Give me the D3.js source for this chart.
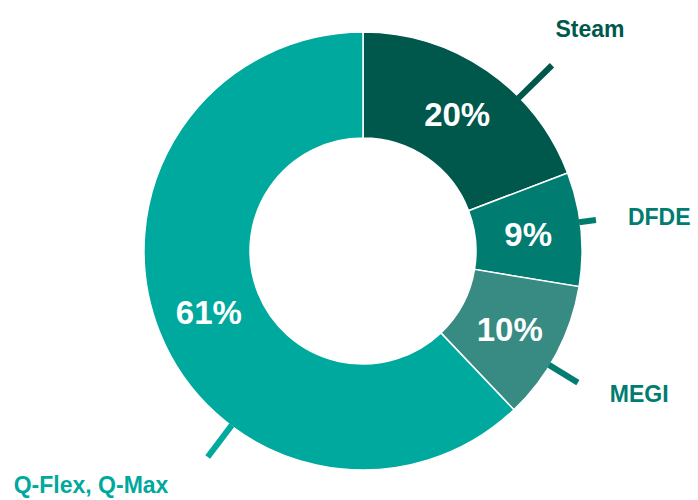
<!DOCTYPE html>
<html lang="en">
<head>
     <meta charset="UTF-8">
     <title>Donut</title>
     <script src="https://d3js.org/d3.v7.min.js"></script>
     <style>
          body { margin: 0; padding: 0; background: #fff; }
          text { font-family: "Liberation Sans", Arial, sans-serif; font-weight: bold; }
     </style>
</head>
<body>
     <script>
          // data
          let categories = ["Steam", "DFDE", "MEGI", "Q-Flex, Q-Max"]
          let shares = [19.2, 8.4, 10.3, 62.1]
          let shareLabels = ["20%", "9%", "10%", "61%"]
          let sliceColors = ["#00584c", "#007c70", "#378b83", "#00a99d"]
          let nameColors = ["#00584c", "#007c70", "#007c70", "#00a99d"]

          let width = 698
          let height = 500
          let cx = 363, cy = 251
          let rOuter = 219, rInner = 113

          // callout layout: leader angle (deg), leader end radius, label offset from leader end, anchor
          let callouts = [
               { a: 45.5, r: 265, dx: 38, dy: -37, anchor: "middle" },
               { a: 82.4, r: 235, dx: 32, dy: -3, anchor: "start" },
               { a: 121.5, r: 252, dx: 32, dy: 11, anchor: "start" },
               { a: 217, r: 258, dx: -194, dy: 28, anchor: "start" }
          ]

          let svg = d3.select("body")
               .append("svg")
               .attr("width", width)
               .attr("height", height)

          let g = svg.append("g").attr("transform", `translate(${cx},${cy})`)

          let pie = d3.pie().sort(null).value(d => d)
          let arcs = pie(shares)

          let arc = d3.arc().innerRadius(rInner).outerRadius(rOuter)

          g.selectAll("path.slice")
               .data(arcs)
               .join("path")
               .attr("class", "slice")
               .attr("d", arc)
               .attr("fill", (d, i) => sliceColors[i])
               .attr("stroke", "#fff")
               .attr("stroke-width", 1.5)

          g.selectAll("text.pct")
               .data(arcs)
               .join("text")
               .attr("class", "pct")
               .attr("x", d => arc.centroid(d)[0])
               .attr("y", d => arc.centroid(d)[1])
               .attr("dy", "0.36em")
               .attr("text-anchor", "middle")
               .attr("fill", "#fff")
               .style("font-size", "33px")
               .text((d, i) => shareLabels[i])

          let rad = Math.PI / 180

          g.selectAll("line.leader")
               .data(callouts)
               .join("line")
               .attr("class", "leader")
               .attr("x1", d => d3.pointRadial(d.a * rad, rOuter - 1)[0])
               .attr("y1", d => d3.pointRadial(d.a * rad, rOuter - 1)[1])
               .attr("x2", d => d3.pointRadial(d.a * rad, d.r)[0])
               .attr("y2", d => d3.pointRadial(d.a * rad, d.r)[1])
               .attr("stroke", (d, i) => nameColors[i])
               .attr("stroke-width", 6)

          g.selectAll("text.name")
               .data(callouts)
               .join("text")
               .attr("class", "name")
               .attr("x", d => d3.pointRadial(d.a * rad, d.r)[0] + d.dx)
               .attr("y", d => d3.pointRadial(d.a * rad, d.r)[1] + d.dy)
               .attr("dy", "0.36em")
               .attr("text-anchor", d => d.anchor)
               .attr("fill", (d, i) => nameColors[i])
               .style("font-size", "23px")
               .text((d, i) => categories[i])
     </script>
</body>
</html>
